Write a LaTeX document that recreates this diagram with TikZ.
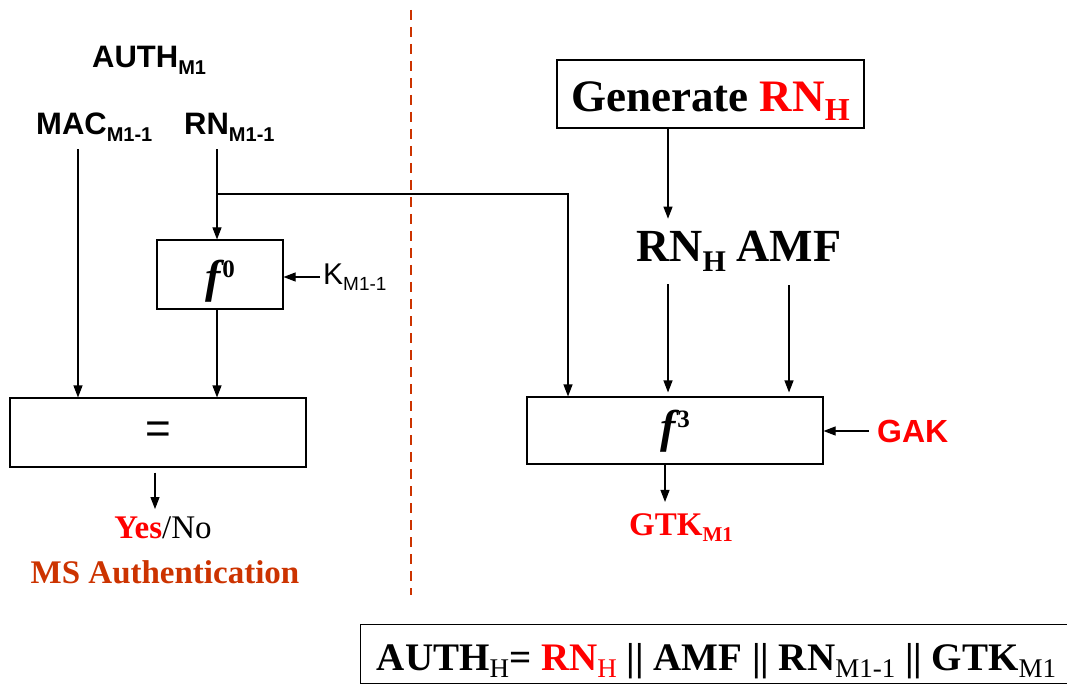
\documentclass[tikz,border=0pt]{standalone}
\usepackage{fontspec}
\setmainfont{Liberation Serif}
\setsansfont{Liberation Sans}
\usetikzlibrary{arrows.meta,positioning,calc}
\definecolor{alert}{RGB}{255,0,0}
\definecolor{rust}{RGB}{204,51,0}
\newcommand{\dn}[2]{\raisebox{-0.2em}{\fontsize{#1}{#1}\selectfont #2}}
\newcommand{\up}[2]{\raisebox{0.33em}{\fontsize{#1}{#1}\selectfont\upshape #2}}
% text set with its baseline #1 below the node centre
\newcommand{\low}[2]{\raisebox{-#1}[0pt][0pt]{#2}}
\newcommand{\fsym}[1]{\textit{f}\kern2pt\up{25}{#1}}

\begin{document}
\begin{tikzpicture}[
    x=1pt, y=-1pt,
    every node/.style={inner sep=0pt},
    blk/.style={draw,line width=1.1pt},
    sfb/.style={font=\sffamily\bfseries\fontsize{31}{31}\selectfont},
    rmb/.style={font=\bfseries\fontsize{33}{33}\selectfont},
    fn/.style={font=\bfseries\itshape\fontsize{46}{46}\selectfont},
    line/.style={-{Triangle[length=12pt,width=9pt]},line width=1.1pt},
    fline/.style={line width=1.1pt}
]
\useasboundingbox (0,0) rectangle (1067,684);

% MS side: received values
\node[sfb,anchor=base west] (AUTH) at (92,68) {AUTH\dn{20}{M1}};
\node[sfb,anchor=base west] (MAC) at (36,135) {MAC\dn{20}{M1-1}};
\node[sfb,anchor=base west] (RN) at (184,135) {RN\dn{20}{M1-1}};

% columns of the vertical connectors
\coordinate (xM) at (78,0);
\coordinate (xR) at (217,0);
\coordinate (xE) at (155,0);
\coordinate (xB) at (568,0);
\coordinate (xG) at (668,0);
\coordinate (xT) at (665,0);
\coordinate (BR) at (217,194);

% f0 and comparison
\node[blk,minimum width=126pt,minimum height=69pt,fn] (F0) at (220,274.5) {\low{18pt}{\fsym{0}}};
\node[anchor=west,inner xsep=3pt,font=\sffamily\fontsize{30}{30}\selectfont] (K) at (320,277)
    {K\dn{19}{M1-1}};
\node[blk,minimum width=296pt,minimum height=69pt,font=\sffamily\fontsize{44}{44}\selectfont]
    (EQ) at (158,432.5) {=};

\draw[line,shorten <=8pt] (MAC.south -| xM) -- (EQ.north -| xM);
\draw[line,shorten <=8pt] (RN.south -| xR) -- (F0.north -| xR);
\draw[line] (K.west) -- (K.west -| F0.east);
\draw[line] (F0.south -| xR) -- (EQ.north -| xR);

% result
\node[rmb,anchor=base] (YN) at (163,538) {\textcolor{alert}{Yes}\mdseries/No};
\node[rmb,anchor=base,text=rust] (MSA) at (165,583) {MS Authentication};
\draw[line,shorten <=5pt,shorten >=7pt] (EQ.south -| xE) -- (YN.north -| xE);

% separator MS | HLR
\draw[rust,line width=2.5pt,dash pattern=on 10pt off 7pt] (411,10) -- (411,595);

% HLR side
\node[blk,minimum width=307pt,minimum height=68pt,font=\bfseries\fontsize{45}{45}\selectfont]
    (GEN) at (710.5,94) {\low{18pt}{Generate \textcolor{alert}{RN\dn{32}{H}}}};
\node[anchor=base west,font=\bfseries\fontsize{46}{46}\selectfont] (RNH) at (636,262) {RN\dn{30}{H}};
\node[anchor=base,font=\bfseries\fontsize{46}{46}\selectfont] (AMF) at (789,262) {AMF};
\draw[line,shorten >=13pt] (GEN.south -| xG) -- (RNH.north -| xG);

\node[blk,minimum width=296pt,minimum height=67pt,fn] (F3) at (675,430.5) {\low{12pt}{\fsym{3}}};
\node[sfb,anchor=west,text=alert,font=\sffamily\bfseries\fontsize{32}{32}\selectfont]
    (GAK) at (877,431) {GAK};
\node[rmb,anchor=base,text=alert] (GTK) at (681,535) {GTK\dn{21}{M1}};

\draw[line] (BR) -| (F3.north -| xB);
\draw[line,shorten <=13pt,shorten >=4pt] (RNH.south -| xG) -- (F3.north -| xG);
\draw[line,shorten <=23pt,shorten >=4pt] (AMF.south) -- (AMF.south |- F3.north);
\draw[line,shorten <=8pt] (GAK.west) -- (GAK.west -| F3.east);
\draw[line,shorten >=11pt] (F3.south -| xT) -- (GTK.north -| xT);

% AUTH_H
\node[blk,anchor=north west,minimum width=712pt,minimum height=59pt,
      font=\bfseries\fontsize{39}{39}\selectfont] (AUTHH) at (360,624)
    {\low{16pt}{AUTH\dn{27}{\mdseries H}= \textcolor{alert}{RN\dn{27}{\mdseries H}} || AMF
     || RN\dn{27}{\mdseries M1-1} || GTK\dn{27}{\mdseries M1}}};

\end{tikzpicture}
\end{document}
